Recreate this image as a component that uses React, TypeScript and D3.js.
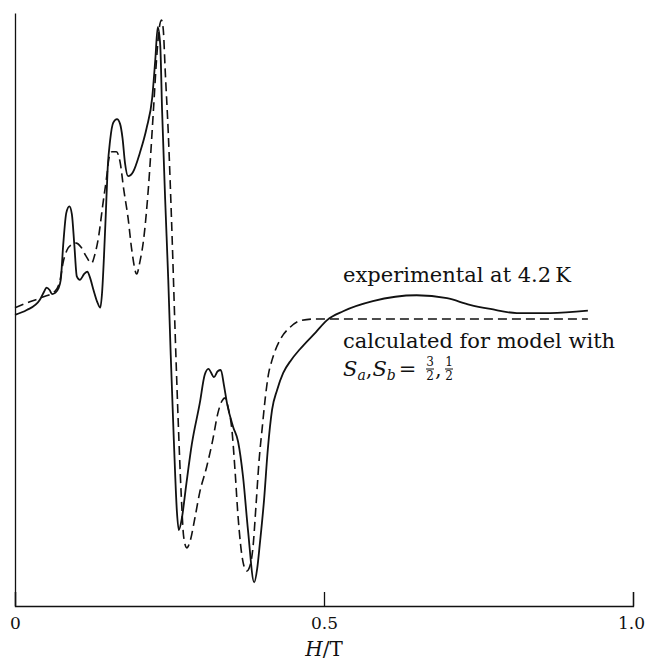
import * as d3 from "d3";
import { useEffect, useRef } from "react";

// field H/T and signal (arbitrary units) for the measured trace
const expH = [
  0, 0.019, 0.04, 0.047, 0.051, 0.056, 0.06, 0.065, 0.07, 0.074,
  0.078, 0.083, 0.088, 0.092, 0.096, 0.1, 0.105, 0.112, 0.117, 0.121,
  0.127, 0.133, 0.138, 0.141, 0.144, 0.147, 0.15, 0.154, 0.159, 0.165,
  0.17, 0.174, 0.178, 0.183, 0.191, 0.202, 0.213, 0.222, 0.227, 0.231,
  0.235, 0.238, 0.243, 0.248, 0.252, 0.257, 0.262, 0.265, 0.27, 0.277,
  0.286, 0.299, 0.307, 0.313, 0.322, 0.328, 0.333, 0.338, 0.343, 0.353,
  0.361, 0.369, 0.377, 0.387, 0.392, 0.396, 0.403, 0.409, 0.416, 0.424,
  0.434, 0.447, 0.461, 0.487, 0.505, 0.531, 0.579, 0.65, 0.699, 0.736,
  0.769, 0.812, 0.866, 0.927,
];
const expSignal = [
  49.1, 49.9, 51.6, 53.0, 53.7, 53.3, 52.6, 52.8, 53.5, 55.0,
  60.9, 66.3, 67.4, 66.1, 60.9, 55.6, 55.0, 56.0, 56.4, 55.5,
  53.3, 51.3, 50.3, 53.0, 59.0, 66.3, 73.9, 78.6, 81.5, 82.1,
  81.3, 78.9, 74.7, 72.5, 73.2, 76.4, 80.6, 85.7, 92.1, 97.6,
  94.6, 83.6, 68.5, 55.0, 42.3, 28.0, 15.9, 12.8, 14.8, 20.4,
  27.2, 34.2, 39.0, 40.0, 38.6, 39.6, 39.8, 37.3, 34.2, 30.2,
  27.7, 21.8, 12.8, 4.0, 6.4, 10.3, 17.9, 26.3, 33.1, 36.4,
  39.3, 41.5, 43.3, 46.2, 48.2, 49.7, 51.4, 52.4, 51.9, 50.8,
  50.1, 49.4, 49.4, 49.8,
];

// calculated trace (model S_a, S_b = 3/2, 1/2)
const calcH = [
  0, 0.024, 0.045, 0.065, 0.073, 0.078, 0.084, 0.091, 0.099, 0.107,
  0.115, 0.124, 0.129, 0.135, 0.142, 0.149, 0.152, 0.157, 0.164, 0.17,
  0.176, 0.183, 0.189, 0.197, 0.202, 0.208, 0.216, 0.224, 0.229, 0.233,
  0.237, 0.24, 0.243, 0.248, 0.254, 0.259, 0.264, 0.269, 0.273, 0.278,
  0.283, 0.291, 0.299, 0.31, 0.32, 0.328, 0.335, 0.34, 0.345, 0.351,
  0.356, 0.361, 0.369, 0.375, 0.38, 0.385, 0.39, 0.395, 0.4, 0.405,
  0.41, 0.416, 0.429, 0.445, 0.461, 0.485, 0.927,
];
const calcSignal = [
  50.3, 51.3, 52.1, 53.1, 55.0, 58.0, 60.0, 60.9, 61.2, 60.5,
  59.0, 57.8, 59.2, 62.1, 67.6, 72.9, 75.5, 76.6, 76.6, 74.9,
  70.2, 65.4, 60.0, 56.0, 58.0, 61.7, 70.7, 83.6, 92.1, 97.1,
  98.8, 97.1, 90.4, 79.8, 62.9, 46.5, 31.4, 18.7, 11.6, 9.8,
  10.8, 14.8, 19.2, 23.4, 28.0, 32.4, 34.6, 35.1, 33.4, 29.7,
  22.9, 15.0, 7.4, 5.9, 6.7, 9.8, 17.0, 24.6, 30.0, 35.1,
  39.0, 41.5, 44.9, 47.0, 48.1, 48.4, 48.4,
];

const xTicks = [0, 0.5, 1.0];
const xTickLabels = ["0", "0.5", "1.0"];

const FONT = "'DejaVu Serif', serif";

export const Spectrum = () => {
  const svgRef = useRef(null);
  const svgWidth = 645;
  const svgHeight = 663;
  const margin = { top: 13, right: 12, bottom: 57, left: 15 };
  const width = svgWidth - margin.left - margin.right;
  const height = svgHeight - margin.top - margin.bottom;

  useEffect(() => {
    const svgEl = d3.select(svgRef.current);
    svgEl.selectAll("*").remove();
    const svg = svgEl
      .append("g")
      .attr("transform", `translate(${margin.left}, ${margin.top})`);

    const x = d3.scaleLinear().domain([0, 1]).range([0, width]);
    const y = d3.scaleLinear().domain([0, 100]).range([height, 0]);

    // x axis, ticks pointing up into the plot
    const xAxis = d3
      .axisBottom(x)
      .tickValues(xTicks)
      .tickFormat((d, i) => xTickLabels[i])
      .tickSizeInner(-14)
      .tickSizeOuter(-14)
      .tickPadding(11);
    const gx = svg
      .append("g")
      .attr("transform", `translate(0, ${height})`)
      .call(xAxis);
    gx.selectAll("path, line").attr("stroke", "#111").attr("stroke-width", 1.3);
    gx.selectAll("text")
      .attr("font-family", FONT)
      .attr("font-size", 17)
      .attr("fill", "#111")
      .attr("dx", (d, i) => (i === xTicks.length - 1 ? -2 : 0));

    // y axis: bare line
    const gy = svg
      .append("g")
      .call(d3.axisLeft(y).tickValues([]).tickSizeOuter(0));
    gy.select("path").attr("stroke", "#111").attr("stroke-width", 1.3);

    const line = d3
      .line()
      .x((d) => x(d[0]))
      .y((d) => y(d[1]))
      .curve(d3.curveMonotoneX);

    const expData = expH.map((h, i) => [h, expSignal[i]]);
    const calcData = calcH.map((h, i) => [h, calcSignal[i]]);

    svg
      .append("path")
      .datum(calcData)
      .attr("d", line)
      .attr("fill", "none")
      .attr("stroke", "#111")
      .attr("stroke-width", 1.6)
      .attr("stroke-dasharray", "9,5");

    svg
      .append("path")
      .datum(expData)
      .attr("d", line)
      .attr("fill", "none")
      .attr("stroke", "#111")
      .attr("stroke-width", 1.8);

    // axis title
    const title = svgEl
      .append("text")
      .attr("x", margin.left + x(0.5))
      .attr("y", 656)
      .attr("text-anchor", "middle")
      .attr("font-family", FONT)
      .attr("font-size", 20)
      .attr("fill", "#111");
    title.append("tspan").attr("font-style", "italic").text("H");
    title.append("tspan").text("/T");

    // labels
    const lx = 343;
    svgEl
      .append("text")
      .attr("x", lx)
      .attr("y", 282)
      .attr("font-family", FONT)
      .attr("font-size", 21)
      .attr("fill", "#111")
      .text("experimental at 4.2\u2009K");
    svgEl
      .append("text")
      .attr("x", lx)
      .attr("y", 348)
      .attr("font-family", FONT)
      .attr("font-size", 21)
      .attr("fill", "#111")
      .text("calculated for model with");

    const sLine = svgEl
      .append("text")
      .attr("x", lx)
      .attr("y", 376)
      .attr("font-family", FONT)
      .attr("font-size", 21)
      .attr("fill", "#111");
    sLine.append("tspan").attr("font-style", "italic").text("S");
    sLine.append("tspan").attr("font-style", "italic").attr("font-size", 14).attr("dy", 4).text("a");
    sLine.append("tspan").attr("dy", -4).text(",");
    sLine.append("tspan").attr("font-style", "italic").text("S");
    sLine.append("tspan").attr("font-style", "italic").attr("font-size", 14).attr("dy", 4).text("b");
    sLine.append("tspan").attr("dy", -4).attr("dx", 3).text("=");

    const fracs = [
      ["3", "2"],
      ["1", "2"],
    ];
    const fx = [430, 449];
    fracs.forEach((f, i) => {
      const g = svgEl.append("g").attr("transform", `translate(${fx[i]}, 0)`);
      g.append("text")
        .attr("x", 0)
        .attr("y", 366)
        .attr("text-anchor", "middle")
        .attr("font-family", FONT)
        .attr("font-size", 12)
        .attr("fill", "#111")
        .text(f[0]);
      g.append("line")
        .attr("x1", -4)
        .attr("x2", 4)
        .attr("y1", 369)
        .attr("y2", 369)
        .attr("stroke", "#111")
        .attr("stroke-width", 1);
      g.append("text")
        .attr("x", 0)
        .attr("y", 380)
        .attr("text-anchor", "middle")
        .attr("font-family", FONT)
        .attr("font-size", 12)
        .attr("fill", "#111")
        .text(f[1]);
      if (i === 0) {
        svgEl
          .append("text")
          .attr("x", fx[i] + 5)
          .attr("y", 376)
          .attr("font-family", FONT)
          .attr("font-size", 21)
          .attr("fill", "#111")
          .text(",");
      }
    });
  }, []);

  return (
    <svg
      ref={svgRef}
      width={svgWidth}
      height={svgHeight}
      style={{ position: "absolute", left: 0, top: 0, background: "#fff" }}
    />
  );
};

export default function App() {
  return <Spectrum />;
}
